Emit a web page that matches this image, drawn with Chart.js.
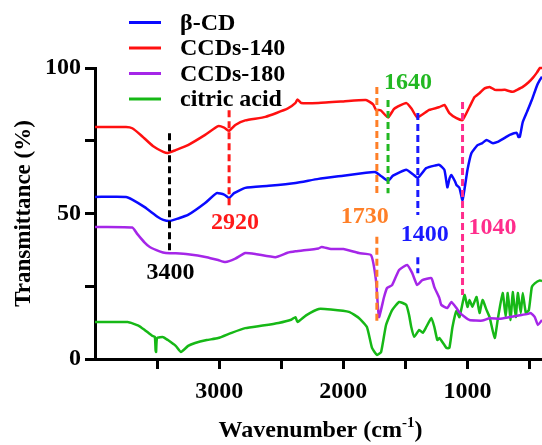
<!DOCTYPE html>
<html>
<head>
<meta charset="utf-8">
<script src="https://cdn.jsdelivr.net/npm/chart.js@4.4.1/dist/chart.umd.min.js"></script>
<style>
  html, body { margin: 0; padding: 0; background: #fff; }
  #wrap { width: 542px; height: 445px; position: relative; }
</style>
</head>
<body>
<div id="wrap"><canvas id="ftir"></canvas></div>
<script>
// FTIR spectra (wavenumber cm-1 / transmittance %)
const seriesNames = ['β-CD', 'CCDs-140', 'CCDs-180', 'citric acid'];
const seriesColors = ['#0a0aff', '#ff1010', '#a526e8', '#16b816'];

const cdWave = [4000, 3750, 3700, 3600, 3494, 3450, 3400, 3330, 3251, 3113, 3020, 2960, 2920, 2880, 2790, 2600, 2385, 2200, 2000, 1818, 1740, 1700, 1640, 1600, 1494, 1440, 1400, 1332, 1260, 1227, 1186, 1162, 1145, 1130, 1100, 1089, 1065, 1040, 1000, 968, 919, 880, 846, 800, 757, 700, 660, 603, 590, 579, 555, 520, 482, 440, 417, 400];
const cdT = [55.7, 55.7, 54.8, 52.2, 48.8, 47.8, 47.4, 48.3, 49.5, 53.6, 57, 56.5, 55.3, 57, 58.8, 59.5, 60.5, 61.9, 63, 64, 64.2, 63, 61.2, 63, 65, 63.5, 62.2, 65.6, 66.5, 66.7, 65, 59, 62, 63.2, 61, 59.8, 58.8, 54.6, 65, 70.8, 73.5, 74.2, 75.3, 74.2, 74.6, 76, 77, 77.7, 76.3, 76.3, 81.4, 85, 89, 94, 95.9, 97];

const c140Wave = [4000, 3750, 3700, 3632, 3534, 3450, 3413, 3350, 3251, 3113, 3008, 2960, 2920, 2870, 2790, 2628, 2450, 2385, 2370, 2340, 2200, 2000, 1818, 1760, 1737, 1700, 1640, 1590, 1494, 1450, 1405, 1308, 1230, 1186, 1146, 1089, 1040, 984, 943, 900, 862, 822, 780, 741, 700, 636, 600, 555, 510, 474, 440, 417, 400];
const c140T = [79.7, 79.7, 79.3, 77, 73.2, 71.2, 70.8, 71.8, 73.5, 77, 80, 79.5, 78.4, 80.4, 82, 83.2, 86, 88, 89.2, 88, 88, 88.5, 89, 87.5, 85.6, 85.5, 83, 86, 88, 86, 83, 85.6, 86.5, 87.3, 84.5, 82.8, 82.1, 86.6, 90, 91.5, 93, 93.5, 92.5, 92.4, 92.5, 91.8, 92.5, 93.5, 95, 96.6, 98.5, 100, 100];

const c180Wave = [4000, 3700, 3660, 3600, 3559, 3480, 3429, 3350, 3251, 3100, 3008, 2950, 2870, 2790, 2700, 2547, 2450, 2385, 2200, 2174, 2100, 2000, 1875, 1777, 1737, 1713, 1672, 1648, 1607, 1551, 1486, 1445, 1405, 1364, 1291, 1267, 1227, 1211, 1162, 1130, 1089, 1065, 1024, 984, 880, 822, 741, 660, 579, 514, 490, 458, 433, 400];
const c180T = [45.4, 45.2, 43, 40, 38.5, 37, 36.4, 36.3, 36, 35, 34, 33.3, 34.5, 36.4, 36, 35, 36.5, 37, 38, 38.5, 37.8, 37.8, 36.4, 35.7, 27, 14.4, 21.3, 24.4, 25.4, 30.6, 32.3, 29.5, 25.4, 27.1, 27.8, 24.7, 21, 18.6, 17.5, 19.6, 17.5, 16, 14.5, 13.4, 13.2, 14, 13.8, 14.4, 15, 15.5, 15.8, 14.4, 11.7, 13.4];

const caWave = [4000, 3737, 3650, 3600, 3540, 3518, 3512, 3508, 3500, 3450, 3413, 3350, 3308, 3250, 3194, 3100, 3008, 2900, 2790, 2650, 2522, 2420, 2385, 2370, 2300, 2198, 2100, 1955, 1875, 1810, 1769, 1729, 1696, 1656, 1607, 1551, 1494, 1470, 1453, 1429, 1389, 1360, 1332, 1291, 1267, 1243, 1227, 1186, 1170, 1146, 1121, 1089, 1065, 1024, 1000, 984, 960, 927, 903, 879, 846, 822, 781, 757, 717, 692, 676, 652, 636, 611, 595, 571, 555, 530, 506, 482, 458, 417, 400];
const caT = [12.7, 12.7, 11.5, 10, 8, 7.6, 3, 2.4, 7.2, 7.5, 6.5, 4.5, 2.4, 4.5, 5.5, 6.5, 7.2, 9, 10.6, 11.5, 12.4, 13.5, 14.4, 12.7, 15, 17.2, 17, 16.2, 14.1, 11, 3.8, 1.4, 2.4, 11.7, 16.8, 19.6, 18.6, 15, 11, 7.6, 10, 9, 11, 14.1, 11, 6.5, 7.2, 4.8, 3.8, 3.8, 11, 16.5, 14.4, 22, 17.9, 20.3, 18, 21.3, 15.8, 20.3, 16.8, 14.4, 7.2, 13.4, 22.7, 14.4, 22.7, 13.4, 23, 14.4, 22.7, 15.8, 22.7, 15.8, 16.8, 24.7, 26, 27, 26.8];

// peak markers
const peakWaves = [3400, 2920, 1730, 1640, 1400, 1040];
const peakLabels = ['3400', '2920', '1730', '1640', '1400', '1040'];
const peakColors = ['#000000', '#ff1a1a', '#ff7f27', '#22b822', '#1a1aff', '#ff2d8c'];

const xTicks = [3500, 3000, 2500, 2000, 1500, 1000, 500];
const yTicks = [0, 25, 50, 75, 100];

const FONT = "'Times New Roman', 'Liberation Serif', serif";

function pairs(xs, ys) {
    return xs.map((x, i) => ({ x: x, y: ys[i] }));
}

const waves = [cdWave, c140Wave, c180Wave, caWave];
const values = [cdT, c140T, c180T, caT];

// dashed line pieces (y ranges) and label spots for each peak
const peakDraw = [
    { segs: [[77.6, 36.4]], labelY: 29.5, dx: 1 },
    { segs: [[85.5, 52]], labelY: 46.7, dx: 6 },
    { segs: [[93.5, 55.7], [42, 12.7]], labelY: 48.8, dx: -12 },
    { segs: [[89, 57]], labelY: 95, dx: 20 },
    { segs: [[84.5, 49.5], [35, 29.5]], labelY: 42.6, dx: 7 },
    { segs: [[88.3, 22]], labelY: 45, dx: 30 }
];

const peakPlugin = {
    id: 'peaks',
    afterDatasetsDraw(chart) {
        const ctx = chart.ctx;
        const xs = chart.scales.x, ys = chart.scales.y;
        ctx.save();
        peakWaves.forEach((w, i) => {
            const px = xs.getPixelForValue(w);
            ctx.strokeStyle = peakColors[i];
            ctx.lineWidth = 3;
            ctx.setLineDash([7, 4]);
            peakDraw[i].segs.forEach(s => {
                ctx.beginPath();
                ctx.moveTo(px, ys.getPixelForValue(s[0]));
                ctx.lineTo(px, ys.getPixelForValue(s[1]));
                ctx.stroke();
            });
            ctx.setLineDash([]);
            ctx.fillStyle = peakColors[i];
            ctx.font = 'bold 24px ' + FONT;
            ctx.textAlign = 'center';
            ctx.textBaseline = 'middle';
            ctx.fillText(peakLabels[i], px + peakDraw[i].dx, ys.getPixelForValue(peakDraw[i].labelY));
        });
        ctx.restore();
    }
};

const legendPlugin = {
    id: 'sideLegend',
    afterDraw(chart) {
        const ctx = chart.ctx;
        ctx.save();
        ctx.font = 'bold 24px ' + FONT;
        ctx.textAlign = 'left';
        ctx.textBaseline = 'middle';
        seriesNames.forEach((name, i) => {
            const y = 22.5 + i * 25.5;
            ctx.strokeStyle = seriesColors[i];
            ctx.lineWidth = 3;
            ctx.beginPath();
            ctx.moveTo(129, y);
            ctx.lineTo(161, y);
            ctx.stroke();
            ctx.fillStyle = '#000';
            ctx.fillText(name, 180, y + 1);
        });

        // x axis title with superscript
        const a = chart.chartArea;
        const main1 = 'Wavenumber (cm', sup = '-1', main2 = ')';
        ctx.font = 'bold 24px ' + FONT;
        const w1 = ctx.measureText(main1).width, w3 = ctx.measureText(main2).width;
        ctx.font = 'bold 15px ' + FONT;
        const w2 = ctx.measureText(sup).width;
        let x = (a.left + a.right) / 2 - (w1 + w2 + w3) / 2 + 2;
        const base = 437;
        ctx.textBaseline = 'alphabetic';
        ctx.font = 'bold 24px ' + FONT;
        ctx.fillText(main1, x, base);
        x += w1;
        ctx.font = 'bold 15px ' + FONT;
        ctx.fillText(sup, x, base - 10);
        x += w2;
        ctx.font = 'bold 24px ' + FONT;
        ctx.fillText(main2, x, base);
        ctx.restore();
    }
};

const ctx = document.getElementById('ftir').getContext('2d');
let ftirChart = new Chart(ctx, {
    type: 'line',
    data: {
        datasets: seriesNames.map((name, i) => ({
            label: name,
            data: pairs(waves[i], values[i]),
            borderColor: seriesColors[i],
            borderWidth: 2.5,
            pointRadius: 0,
            tension: 0.15,
            fill: false,
            clip: false
        }))
    },
    options: {
        responsive: true,
        maintainAspectRatio: false,
        animation: false,
        layout: { padding: { top: 68, left: 0, right: 0, bottom: 0 } },
        plugins: {
            legend: { display: false },
            tooltip: { enabled: false }
        },
        scales: {
            x: {
                type: 'linear',
                reverse: true,
                min: 400,
                max: 4000,
                afterBuildTicks: s => { s.ticks = xTicks.map(v => ({ value: v })); },
                afterFit: s => { s.height = 86; },
                border: { display: true, color: '#000', width: 3 },
                grid: { drawOnChartArea: false, drawTicks: true, tickLength: 10, tickWidth: 3, tickColor: '#000' },
                ticks: {
                    autoSkip: false,
                    maxRotation: 0,
                    padding: 8,
                    color: '#000',
                    font: { family: FONT, size: 24, weight: 'bold' },
                    callback: v => (v % 1000 === 0 ? String(v) : '')
                },
                title: { display: false }
            },
            y: {
                min: 0,
                max: 100,
                afterBuildTicks: s => { s.ticks = yTicks.map(v => ({ value: v })); },
                afterFit: s => { s.width = 95; },
                border: { display: true, color: '#000', width: 3 },
                grid: { drawOnChartArea: false, drawTicks: true, tickLength: 10, tickWidth: 3, tickColor: '#000' },
                ticks: {
                    padding: 4,
                    color: '#000',
                    font: { family: FONT, size: 24, weight: 'bold' },
                    callback: v => (v % 50 === 0 ? String(v) : '')
                },
                title: {
                    display: true,
                    text: 'Transmittance (%)',
                    color: '#000',
                    font: { family: FONT, size: 23, weight: 'bold' },
                    padding: { top: 10, bottom: 0 }
                }
            }
        }
    },
    plugins: [peakPlugin, legendPlugin]
});
</script>
</body>
</html>
